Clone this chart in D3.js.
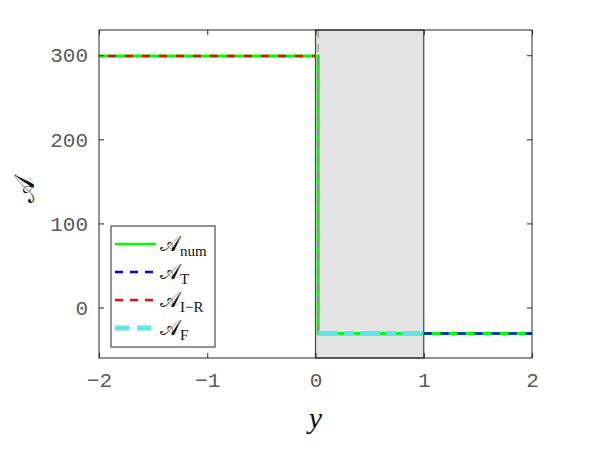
<!DOCTYPE html>
<html>
<head>
<meta charset="utf-8">
<script src="https://cdn.jsdelivr.net/npm/d3@7"></script>
<style>
  body { margin: 0; background: #fff; }
  text { font-family: "Liberation Mono", "DejaVu Sans Mono", monospace; }
</style>
</head>
<body>
<div id="chart"></div>
<script>
// data
const xTicks = [-2, -1, 0, 1, 2];
const yTicks = [0, 100, 200, 300];
const shadeRange = [0, 1];
// A_num (solid green): jump near y = 0
const numX = [-2, 0.025, 0.025, 2];
const numY = [299, 299, -31, -31];
// A_T (blue dashed), right side
const tX = [1, 2];
const tY = [-31, -31];
// A_I-R (red dashed), left side
const irX = [-2, 0];
const irY = [299, 299];
// A_F (cyan thick dashed), inside the strip
const fX = [0.025, 1];
const fY = [-31, -31];

const width = 591, height = 474;
const margin = { left: 99, right: 59, top: 30, bottom: 116 };

const svg = d3.select("#chart").append("svg")
  .attr("width", width).attr("height", height);

const x = d3.scaleLinear().domain([-2, 2]).range([margin.left, width - margin.right]);
const y = d3.scaleLinear().domain([-60, 330]).range([height - margin.bottom, margin.top]);

// shaded strip
svg.append("rect")
  .attr("x", x(shadeRange[0])).attr("y", y(330))
  .attr("width", x(shadeRange[1]) - x(shadeRange[0]))
  .attr("height", y(-60) - y(330))
  .attr("fill", "#e3e3e3")
  .attr("stroke", "#444").attr("stroke-width", 1.2);

const line = d3.line().x(d => x(d[0])).y(d => y(d[1]));
const pts = (xs, ys) => xs.map((v, i) => [v, ys[i]]);

svg.append("path").datum(pts(numX, numY))
  .attr("d", line).attr("fill", "none")
  .attr("stroke", "#00ff00").attr("stroke-width", 3);

// vertical dashed overlay on jump
svg.append("path").datum([[0.025, 330], [0.025, -31]])
  .attr("d", line).attr("fill", "none")
  .attr("stroke", "#7a9a7a").attr("stroke-width", 1.2)
  .attr("stroke-dasharray", "8,6");

svg.append("path").datum(pts(irX, irY))
  .attr("d", line).attr("fill", "none")
  .attr("stroke", "#ff0000").attr("stroke-width", 2.5)
  .attr("stroke-dasharray", "8,9").attr("stroke-dashoffset", -9);

svg.append("path").datum(pts(fX, fY))
  .attr("d", line).attr("fill", "none")
  .attr("stroke", "#5ee6e6").attr("stroke-width", 5)
  .attr("stroke-dasharray", "20,6,10,6");

svg.append("path").datum(pts(tX, tY))
  .attr("d", line).attr("fill", "none")
  .attr("stroke", "#0000ff").attr("stroke-width", 2.5)
  .attr("stroke-dasharray", "8,9");

// axes box
const axColor = "#262626";
const tickColor = "#5a5a5a";
svg.append("rect")
  .attr("x", margin.left).attr("y", margin.top)
  .attr("width", width - margin.left - margin.right)
  .attr("height", height - margin.top - margin.bottom)
  .attr("fill", "none").attr("stroke", axColor).attr("stroke-width", 1);

const xAxis = svg.append("g")
  .attr("transform", `translate(0,${height - margin.bottom})`)
  .call(d3.axisBottom(x).tickValues(xTicks).tickSizeInner(-5).tickSizeOuter(0).tickPadding(14)
    .tickFormat(d => d < 0 ? "\u2212" + Math.abs(d) : d));
xAxis.select(".domain").remove();
xAxis.selectAll("line").attr("stroke", axColor);
xAxis.selectAll("text").attr("font-size", 21).attr("fill", tickColor);

svg.append("g")
  .attr("transform", `translate(0,${margin.top})`)
  .call(d3.axisTop(x).tickValues(xTicks).tickSizeInner(-5).tickSizeOuter(0).tickFormat(""))
  .call(g => g.select(".domain").remove())
  .selectAll("line").attr("stroke", axColor);

const yAxis = svg.append("g")
  .attr("transform", `translate(${margin.left},0)`)
  .call(d3.axisLeft(y).tickValues(yTicks).tickSizeInner(-5).tickSizeOuter(0).tickPadding(11));
yAxis.select(".domain").remove();
yAxis.selectAll("line").attr("stroke", axColor);
yAxis.selectAll("text").attr("font-size", 21).attr("fill", tickColor);

svg.append("g")
  .attr("transform", `translate(${width - margin.right},0)`)
  .call(d3.axisRight(y).tickValues(yTicks).tickSizeInner(-5).tickSizeOuter(0).tickFormat(""))
  .call(g => g.select(".domain").remove())
  .selectAll("line").attr("stroke", axColor);

// axis labels
svg.append("text")
  .attr("x", x(0)).attr("y", 428)
  .attr("text-anchor", "middle")
  .style("font-family", "'Liberation Serif', serif").style("font-style", "italic")
  .attr("font-size", 30).attr("fill", "#111")
  .text("y");

svg.append("text")
  .attr("transform", `translate(34,${y(140)}) rotate(-90)`)
  .attr("text-anchor", "middle")
  .style("font-family", "'DejaVu Sans', serif")
  .attr("font-size", 28).attr("fill", "#111")
  .text("\u{1D49C}");

// legend
const legendNames = ["num", "T", "I\u2212R", "F"];
const legendColors = ["#00ff00", "#0000ff", "#ff0000", "#5ee6e6"];
const legendDash = [null, "8,7", "8,7", "14,8"];
const legendWidths = [2.5, 2.5, 2.5, 5];

const lg = svg.append("g").attr("transform", "translate(111,226)");
lg.append("rect").attr("width", 104).attr("height", 121)
  .attr("fill", "#fff").attr("stroke", axColor).attr("stroke-width", 1);

legendNames.forEach((name, i) => {
  const yy = 18 + i * 28;
  lg.append("line")
    .attr("x1", 4).attr("x2", 45).attr("y1", yy).attr("y2", yy)
    .attr("stroke", legendColors[i]).attr("stroke-width", legendWidths[i])
    .attr("stroke-dasharray", legendDash[i]);
  const t = lg.append("text").attr("x", 49).attr("y", yy + 7)
    .style("font-family", "'DejaVu Sans', serif").attr("fill", "#111");
  t.append("tspan").attr("font-size", 21).text("\u{1D49C}");
  t.append("tspan").attr("font-size", 15).attr("dy", 5)
    .style("font-family", "'Liberation Serif', serif").text(name);
});
</script>
</body>
</html>
